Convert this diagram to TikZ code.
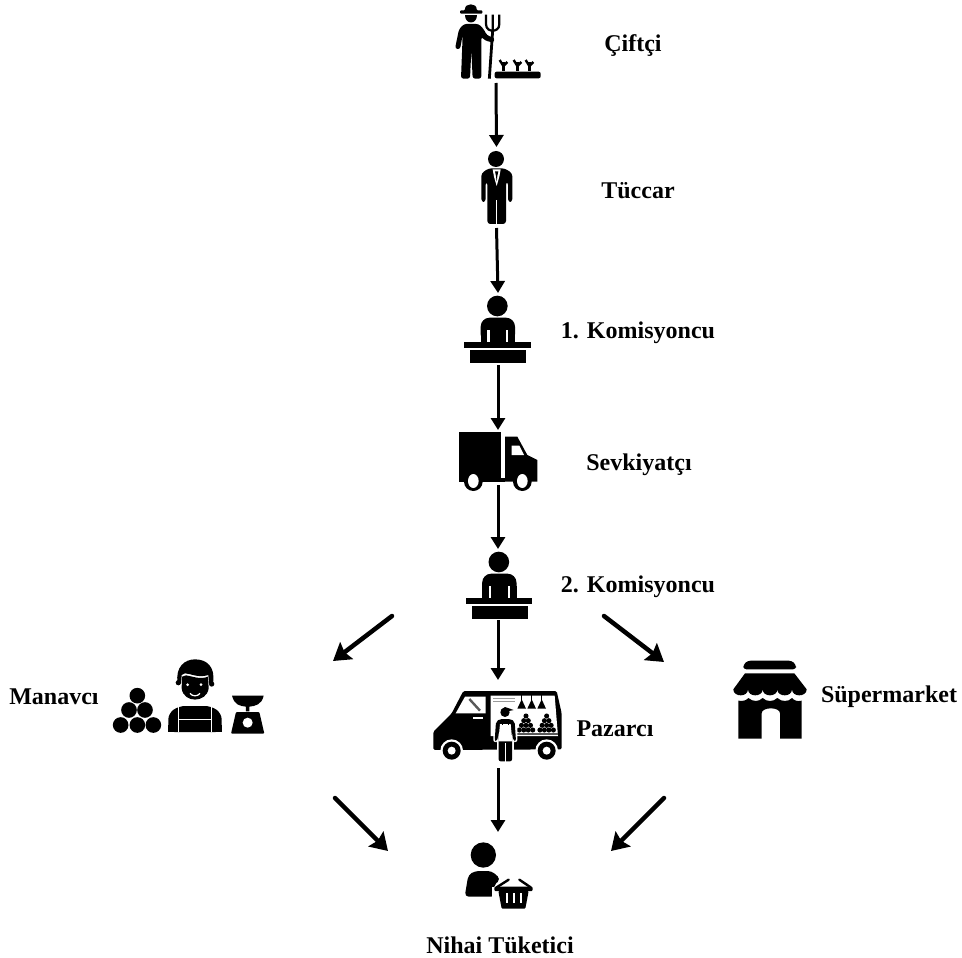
\documentclass[tikz,border=0pt]{standalone}
\usepackage{fontspec}
\setmainfont{Liberation Serif}
\usetikzlibrary{arrows.meta}
\tikzset{
  lbl/.style={font=\fontsize{24}{28}\selectfont\bfseries,inner sep=0pt},
  slot/.style={inner sep=0pt,outer sep=0pt,minimum width=2pt},
  flow/.style={line width=3pt,-{Triangle[length=12pt,width=14pt]}},
  side/.style={line width=4.5pt,line cap=round,-{Stealth[length=17pt,width=21pt,inset=2.5pt]}},
  ico/.style={scale=1/3}
}
\newcommand{\deskperson}{%
  \fill (232,78) circle (31);
  \fill[rounded corners=9pt] (182,190) -- (182,113) -- (285,113) -- (285,190) -- cycle;
  \fill (182,150) rectangle (285,190);
  \fill[white] (202,150) rectangle (209,186);
  \fill[white] (258,150) rectangle (265,186);
  \fill (133,186) rectangle (332,204);
  \fill (150,210) rectangle (318,248);
}
\begin{document}
\begin{tikzpicture}[x=1pt,y=-1pt]
\useasboundingbox[fill=white] (0,0) rectangle (962,958);

% layout slots of the icons
\node[slot,minimum height=78pt] (ciftci) at (496,44) {};
\node[slot,minimum height=81pt] (tuccar) at (496.5,187.5) {};
\node[slot,minimum height=72pt] (kom1) at (498,329) {};
\node[slot,minimum height=55pt] (sevk) at (498,457.5) {};
\node[slot,minimum height=71pt] (kom2) at (498,584.5) {};
\node[slot,minimum height=88pt] (pazar) at (498,724) {};
\node[slot,minimum height=50pt] (nihai) at (498,857) {};

% Farmer
\begin{scope}[shift={(440,0)},ico]
  \fill[rounded corners=1pt] (60,31) -- (75,31) .. controls (74,8) and (111,8) .. (110,31) -- (127,31) -- (127,41) -- (60,41) -- cycle;
  \fill (75,45) -- (111,45) .. controls (111,74) and (75,74) .. (75,45) -- cycle;
  \fill[rounded corners=2.5pt] (45,146) -- (57,88) -- (72,72) -- (116,72) -- (130,86) -- (141,106) -- (164,114) -- (161,128) -- (136,122) -- (124,110) -- (124,236) -- (98,236) -- (94,150) -- (90,236) -- (63,236) -- (68,105) -- (60,148) -- cycle;
  \draw[line width=2.8pt] (158,92) -- (148,236);
  \draw[line width=2.2pt] (138,44) -- (138,72) .. controls (138,88) and (150,92) .. (158,92) .. controls (166,92) and (178,88) .. (178,72) -- (178,44) (158,44) -- (158,92);
  \fill[rounded corners=2pt] (164,215) rectangle (302,235);
  \foreach \p in {190,232,268}{
    \draw[line width=2.4pt] (\p,186) -- (\p,213);
    \draw[line width=2.4pt] (\p-11,180) -- (\p,198) -- (\p+12,186);
  }
\end{scope}

% Merchant
\begin{scope}[shift={(440,0)},ico]
  \fill (168,477) circle (24);
  \fill[rounded corners=3pt] (124,606) -- (124,520) -- (146,505) -- (194,505) -- (217,520) -- (217,606) -- (204,606) -- (204,545) -- (198,545) -- (198,672) -- (142,672) -- (142,545) -- (137,545) -- (137,606) -- cycle;
  \fill[white] (166.5,600) rectangle (171.5,675);
  \fill[white] (158,508) -- (182,508) -- (178,530) -- (170,558) -- (162,530) -- cycle;
  \fill (165,514) -- (175,514) -- (172,528) -- (170,545) -- (168,528) -- cycle;
\end{scope}

% Broker 1, broker 2
\begin{scope}[shift={(420,280)},ico]\deskperson\end{scope}
\begin{scope}[shift={(421.5,536)},ico]\deskperson\end{scope}

% Truck
\begin{scope}[shift={(420,280)},ico]
  \fill (118,455) rectangle (243,605);
  \fill (243,595) rectangle (255,605);
  \fill (255,470) -- (292,470) -- (322,525) -- (352,540) -- (352,605) -- (255,605) -- cycle;
  \fill[white] (275,497) -- (298,497) -- (312,525) -- (275,525) -- cycle;
  \foreach \w in {160,307}{
    \fill (\w,605) circle (28);
    \fill[white] (\w,603) ellipse (16 and 21);
  }
\end{scope}

% Market van
\begin{scope}[shift={(420,680)},ico]
  \fill[rounded corners=1.5pt] (130,33) -- (410,33) -- (425,100) -- (425,208) -- (40,210) -- (40,155) -- (95,100) -- cycle;
  \fill[white] (135,50) -- (197,50) -- (197,100) -- (107,100) -- cycle;
  \draw[gray!70!black,line width=2.4pt] (148,57) -- (180,92);
  \fill[white] (160,112) rectangle (190,117);
  \fill[white] (212,47) -- (404,47) -- (414,168) -- (212,168) -- cycle;
  \fill[gray!80] (220,54) rectangle (285,58);
  \fill[gray!80] (220,63) rectangle (285,67);
  \fill[gray!70!black] (290,160) rectangle (414,166);
  \foreach \b in {305,335,365}{
    \draw[line width=0.8pt] (\b,46) -- (\b,62);
    \fill (\b,58) -- (\b+13,86) -- (\b-13,86) -- cycle;
  }
  \foreach \c in {318,380}{
    \foreach \r/\n in {0/1,1/2,2/3,3/4}{
      \foreach \i in {1,...,\n}{
        \fill (\c+13.5*\i-6.75*\n-6.75,108+14*\r) circle (7.6);
      }
    }
  }
  \foreach \w in {95,380}{
    \fill[white] (\w,212) circle (34);
    \fill (\w,212) circle (27);
    \fill[white] (\w,212) circle (12);
  }
  % vendor
  \fill[white,rounded corners=2pt] (220,112) rectangle (292,186);
  \fill[white] (230,180) rectangle (282,210);
  \fill[white] (255,97) circle (20);
  \fill (255,97) circle (14);
  \fill (242,90) -- (255,81) -- (281,90) -- (262,94) -- cycle;
  \fill[rounded corners=2pt] (224,183) -- (228,125) -- (240,117) -- (272,117) -- (284,125) -- (288,183) -- (280,183) -- (276,150) -- (276,244) -- (236,244) -- (236,150) -- (232,183) -- cycle;
  \fill[white] (240,132) -- (272,132) -- (277,184) -- (235,184) -- cycle;
  \fill (246,118) rectangle (249,134);
  \fill (263,118) rectangle (266,134);
  \fill[white] (254.5,190) rectangle (257.5,246);
\end{scope}

% Greengrocer
\begin{scope}[shift={(105,650)},ico]
  \foreach \bx/\by in {97/137,72/180,120/180,47/225,97/225,145/225}{\fill (\bx,\by) circle (23.5);}
  \fill (218,100) .. controls (210,50) and (240,28) .. (270,28) .. controls (305,28) and (332,50) .. (324,100) -- (312,100) -- (310,75) .. controls (280,85) and (255,70) .. (240,70) -- (230,75) -- (228,100) -- cycle;
  \fill (220,98) circle (8);
  \fill (320,102) circle (8);
  \fill (231,80) -- (243,76) .. controls (260,78) and (285,90) .. (309,80) -- (311,115) .. controls (305,160) and (235,160) .. (230,115) -- cycle;
  \fill[white] (248,104) circle (4.5);
  \fill[white] (288,104) circle (4.5);
  \draw[white,line width=1.2pt] (255,130) .. controls (262,140) and (278,140) .. (285,130);
  \fill[rounded corners=6pt] (190,246) -- (190,190) -- (222,168) -- (318,168) -- (350,190) -- (350,246) -- cycle;
  \fill (190,225) rectangle (350,246);
  \draw[white,line width=0.9pt] (221,168) -- (221,246) (319,168) -- (319,246) (221,208) -- (319,208);
  \fill (381,137) -- (476,137) .. controls (470,165) and (450,168) .. (433,170) -- (433,184) -- (423,184) -- (423,170) .. controls (405,168) and (388,165) .. (381,137) -- cycle;
  \fill[rounded corners=1pt] (393,186) -- (463,186) -- (478,251) -- (378,251) -- cycle;
  \fill[white] (428,218) circle (15);
\end{scope}

% Supermarket
\begin{scope}[shift={(725,650)},ico]
  \fill[rounded corners=3pt] (55,58) -- (55,44) -- (68,32) -- (200,32) -- (213,44) -- (213,58) -- cycle;
  \fill (60,70) -- (208,70) -- (245,118) .. controls (245,142) and (201,142) .. (201,118) .. controls (201,142) and (157,142) .. (157,118) .. controls (157,142) and (113,142) .. (113,118) .. controls (113,142) and (69,142) .. (69,118) .. controls (69,142) and (25,142) .. (25,118) -- cycle;
  \fill (40,152) .. controls (55,155) and (65,150) .. (70,144) .. controls (85,156) and (100,156) .. (113,144) .. controls (125,156) and (145,156) .. (157,144) .. controls (170,156) and (190,156) .. (201,144) .. controls (208,152) and (218,155) .. (230,152) -- (230,266) -- (165,266) -- (165,190) .. controls (165,170) and (110,170) .. (110,190) -- (110,266) -- (40,266) -- cycle;
\end{scope}

% Consumer
\begin{scope}[shift={(450,830)},ico]
  \fill (100,75) circle (38);
  \fill[rounded corners=4pt] (44,200) -- (55,135) -- (75,123) -- (125,123) -- (152,147) -- (130,168) -- (136,200) -- cycle;
  \fill[white] (125,172) rectangle (250,240);
  \draw[line width=2.4pt,line cap=round] (140,172) -- (176,149) (242,172) -- (208,149);
  \fill[rounded corners=1pt] (133,170) rectangle (248,183);
  \fill[rounded corners=1pt] (145,183) -- (236,183) -- (226,236) -- (155,236) -- cycle;
  \foreach \s in {171,191,212}{\fill[white] (\s-3.5,190) rectangle (\s+3.5,218);}
\end{scope}

% Labels
\node[lbl] (lciftci) at (633,46) {Çiftçi};
\node[lbl] (ltuccar) at (638,191) {Tüccar};
\node[lbl] (lkom1) at (638,333) {1. Komisyoncu};
\node[lbl] (lsevk) at (639,465) {Sevkiyatçı};
\node[lbl] (lkom2) at (638,587) {2. Komisyoncu};
\node[lbl] (lman) at (54,697) {Manavcı};
\node[lbl] (lpaz) at (615,729) {Pazarcı};
\node[lbl] (lsup) at (889,697) {Süpermarket};
\node[lbl] (lnih) at (500,945) {Nihai Tüketici};

% Vertical connectors
\draw[flow] (ciftci.south) -- (tuccar.north);
\draw[flow] (tuccar.south) -- (kom1.north);
\draw[flow] (kom1.south) -- (sevk.north);
\draw[flow] (sevk.south) -- (kom2.north);
\draw[flow] (kom2.south) -- (pazar.north);
\draw[flow] (pazar.south) -- (nihai.north);

% Diagonal connectors
\coordinate (dla) at (392,616);
\coordinate (dlb) at (333,661);
\coordinate (dra) at (604,616);
\coordinate (drb) at (664,662);
\coordinate (ula) at (335,798);
\coordinate (ulb) at (388,851);
\coordinate (ura) at (664,798);
\coordinate (urb) at (611,851);
\draw[side] (dla) -- (dlb);
\draw[side] (dra) -- (drb);
\draw[side] (ula) -- (ulb);
\draw[side] (ura) -- (urb);
\end{tikzpicture}
\end{document}
